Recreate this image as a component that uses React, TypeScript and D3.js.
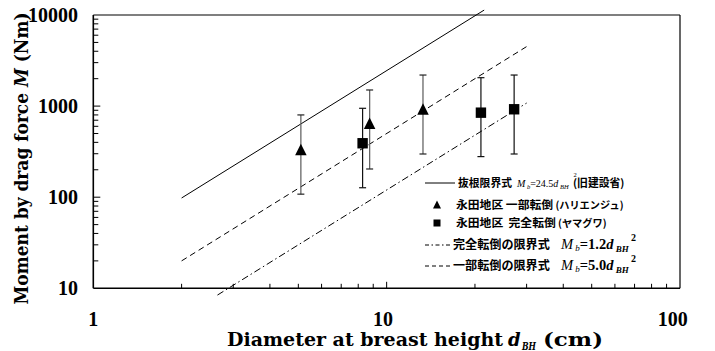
import React from "react";
import * as d3 from "d3";

// ---- data ----
const xTickLabels = [1, 10, 100];
const yTickLabels = [10, 100, 1000, 10000];

// 永田地区 一部転倒 (ハリエンジュ) — triangles
const triD = [5.1, 8.75, 13.3];
const triM = [330, 637, 918];
const triHi = [800, 1503, 2193];
const triLo = [108, 204, 298];

// 永田地区 完全転倒 (ヤマグワ) — squares
const sqD = [8.28, 20.96, 27.2];
const sqM = [391, 847, 923];
const sqHi = [946, 2051, 2193];
const sqLo = [127, 279, 298];

// limit lines  M = k * d^2
const limitK = [24.5, 5.0, 1.2];
const limitDStart = [2, 2, 2.65];
const limitDEnd = [21.5, 30, 30];
const limitDash = ["none", "6,4", "7,3,1.5,3"];

const W = 715;
const H = 351;
const L = 93.3, R = 680, T = 15, B = 288.3;

const serif = "'Liberation Serif', 'Times New Roman', serif";
const wideSerif = "'DejaVu Serif', 'Liberation Serif', serif";
const jp = "'Noto Sans CJK JP', sans-serif";

export default function App() {
  const x = d3.scaleLog().domain([1, 100]).range([L, R]);
  const y = d3.scaleLog().domain([10, 10000]).range([B, T]);

  const xMinor: number[] = [];
  [1, 10].forEach((dec) => {
    for (let i = 2; i <= 9; i++) xMinor.push(dec * i);
  });
  const yMinor: number[] = [];
  [10, 100, 1000].forEach((dec) => {
    for (let i = 2; i <= 9; i++) yMinor.push(dec * i);
  });

  const line = d3
    .line<[number, number]>()
    .x((d) => x(d[0]))
    .y((d) => y(d[1]));

  const triPath = (cx: number, cy: number, s: number) =>
    `M${cx},${cy - s * 0.55}L${cx + s / 2},${cy + s * 0.45}L${cx - s / 2},${cy + s * 0.45}Z`;

  const legendRows = [183, 205, 223, 245, 266];
  const capW = 3.5;

  return (
    <svg
      width={W}
      height={H}
      style={{ position: "absolute", left: 0, top: 0, background: "#fff" }}
    >
      <rect x={0} y={0} width={W} height={H} fill="#fff" />

      {/* limit lines */}
      {limitK.map((k, i) => (
        <path
          key={"lim" + i}
          d={
            line([
              [limitDStart[i], k * limitDStart[i] * limitDStart[i]],
              [limitDEnd[i], k * limitDEnd[i] * limitDEnd[i]],
            ]) || ""
          }
          fill="none"
          stroke="#000"
          strokeWidth={1}
          strokeDasharray={limitDash[i]}
        />
      ))}

      {/* error bars triangles */}
      {triD.map((d, i) => (
        <g key={"te" + i}>
          <line x1={x(d)} x2={x(d)} y1={y(triHi[i])} y2={y(triLo[i])} stroke="#666" strokeWidth={1.3} />
          <line x1={x(d) - capW} x2={x(d) + capW} y1={y(triHi[i])} y2={y(triHi[i])} stroke="#222" strokeWidth={1.2} />
          <line x1={x(d) - capW} x2={x(d) + capW} y1={y(triLo[i])} y2={y(triLo[i])} stroke="#222" strokeWidth={1.2} />
        </g>
      ))}
      {/* error bars squares */}
      {sqD.map((d, i) => (
        <g key={"se" + i}>
          <line x1={x(d)} x2={x(d)} y1={y(sqHi[i])} y2={y(sqLo[i])} stroke="#111" strokeWidth={1.2} />
          <line x1={x(d) - capW} x2={x(d) + capW} y1={y(sqHi[i])} y2={y(sqHi[i])} stroke="#111" strokeWidth={1.2} />
          <line x1={x(d) - capW} x2={x(d) + capW} y1={y(sqLo[i])} y2={y(sqLo[i])} stroke="#111" strokeWidth={1.2} />
        </g>
      ))}

      {/* markers */}
      {triD.map((d, i) => (
        <path key={"tm" + i} d={triPath(x(d), y(triM[i]), 11.5)} fill="#000" />
      ))}
      {sqD.map((d, i) => (
        <rect key={"sm" + i} x={x(d) - 5.2} y={y(sqM[i]) - 5.2} width={10.4} height={10.4} fill="#000" />
      ))}

      {/* frame */}
      <line x1={L} x2={R} y1={T} y2={T} stroke="#000" strokeWidth={1.2} />
      <line x1={R} x2={R} y1={T} y2={B} stroke="#000" strokeWidth={1.2} />
      <line x1={L} x2={L} y1={T} y2={B} stroke="#000" strokeWidth={1.6} />
      <line x1={L} x2={R} y1={B} y2={B} stroke="#000" strokeWidth={1.6} />

      {/* x ticks */}
      {xMinor.map((v) => (
        <line key={"xm" + v} x1={x(v)} x2={x(v)} y1={B} y2={B - 4.5} stroke="#000" strokeWidth={1} />
      ))}
      <line x1={x(10)} x2={x(10)} y1={B} y2={B - 6.5} stroke="#000" strokeWidth={1} />
      {/* y ticks */}
      {yMinor.map((v) => (
        <line key={"ym" + v} x1={L} x2={L + 5} y1={y(v)} y2={y(v)} stroke="#000" strokeWidth={1} />
      ))}
      {[100, 1000].map((v) => (
        <line key={"yM" + v} x1={L} x2={L + 7} y1={y(v)} y2={y(v)} stroke="#000" strokeWidth={1} />
      ))}

      {/* tick labels */}
      {yTickLabels.map((v) => (
        <text
          key={"yl" + v}
          x={78}
          y={y(v)}
          dy="0.35em"
          textAnchor="end"
          fontFamily={serif}
          fontWeight="bold"
          fontSize={20}
        >
          {v}
        </text>
      ))}
      {xTickLabels.map((v, i) => (
        <text
          key={"xl" + v}
          x={x(v) - i * 3.6}
          y={326}
          textAnchor="middle"
          fontFamily={serif}
          fontWeight="bold"
          fontSize={20}
        >
          {v}
        </text>
      ))}

      {/* axis titles */}
      <g fontFamily={wideSerif} fontWeight="bold" fontSize={18}>
        <text x={227} y={346} textLength={276} lengthAdjust="spacingAndGlyphs">
          Diameter at breast height
        </text>
        <text x={508} y={346} fontStyle="italic">d</text>
        <text x={522} y={349.5} fontStyle="italic" fontSize={10.5} textLength={14} lengthAdjust="spacingAndGlyphs">BH</text>
        <text x={543} y={346} textLength={60} lengthAdjust="spacingAndGlyphs">(cm)</text>
      </g>
      <text
        transform={`translate(28,158.5) rotate(-90)`}
        textAnchor="middle"
        fontFamily={wideSerif}
        fontWeight="bold"
        fontSize={18}
        textLength={292}
        lengthAdjust="spacingAndGlyphs"
      >
        Moment by drag force <tspan fontStyle="italic">M</tspan>  (Nm)
      </text>

      {/* legend */}
      <line x1={425} x2={455} y1={legendRows[0]} y2={legendRows[0]} stroke="#000" strokeWidth={1} />
      <text x={458} y={legendRows[0]} dy="0.36em" fontFamily={jp} fontWeight="bold" fontSize={10.8}>
        抜根限界式
      </text>
      <text x={517} y={legendRows[0]} dy="0.35em" fontFamily={serif} fontSize={10}>
        <tspan fontStyle="italic">M</tspan>
        <tspan fontSize={6.5} fontStyle="italic" dy={2}> b</tspan>
        <tspan dy={-2}>=24.5</tspan>
        <tspan fontStyle="italic">d</tspan>
        <tspan fontSize={6.5} fontStyle="italic" dy={2}> BH</tspan>
      </text>
      <text x={573.5} y={legendRows[0] - 6} fontFamily={serif} fontSize={6.5}>2</text>
      <text x={573} y={legendRows[0]} dy="0.36em" fontFamily={jp} fontWeight="bold" fontSize={10.8}>
        (旧建設省)
      </text>

      <path d={triPath(437, legendRows[1], 8)} fill="#000" />
      <text x={456} y={legendRows[1]} dy="0.36em" fontFamily={jp} fontWeight="bold" fontSize={11.8}>
        永田地区 一部転倒
        <tspan fontSize={10.2}> (ハリエンジュ)</tspan>
      </text>

      <rect x={433.5} y={legendRows[2] - 3.5} width={7} height={7} fill="#000" />
      <text x={456} y={legendRows[2]} dy="0.36em" fontFamily={jp} fontWeight="bold" fontSize={11.8} xmlSpace="preserve">
        永田地区  完全転倒
        <tspan fontSize={10.2}> (ヤマグワ)</tspan>
      </text>

      {[3, 4].map((r, j) => (
        <g key={"lr" + r}>
          <line
            x1={425}
            x2={452}
            y1={legendRows[r]}
            y2={legendRows[r]}
            stroke="#000"
            strokeWidth={1}
            strokeDasharray={j === 0 ? "4,2.5,1.5,2.5" : "4,3"}
          />
          <text x={453} y={legendRows[r]} dy="0.36em" fontFamily={jp} fontWeight="bold" fontSize={12.1}>
            {j === 0 ? "完全転倒の限界式" : "一部転倒の限界式"}
          </text>
          <text x={561} y={legendRows[r]} dy="0.3em" fontFamily={serif} fontWeight="bold" fontSize={14.5}>
            <tspan fontStyle="italic" fontWeight="normal">M</tspan>
            <tspan fontSize={9} fontStyle="italic" fontWeight="normal" dy={2}> b</tspan>
            <tspan dy={-2}>={j === 0 ? "1.2" : "5.0"}</tspan>
            <tspan fontStyle="italic">d</tspan>
            <tspan fontSize={9} fontStyle="italic" dy={3}> BH</tspan>
          </text>
          <text x={631} y={legendRows[r] - 4} fontFamily={serif} fontWeight="bold" fontSize={10}>
            2
          </text>
        </g>
      ))}
    </svg>
  );
}
